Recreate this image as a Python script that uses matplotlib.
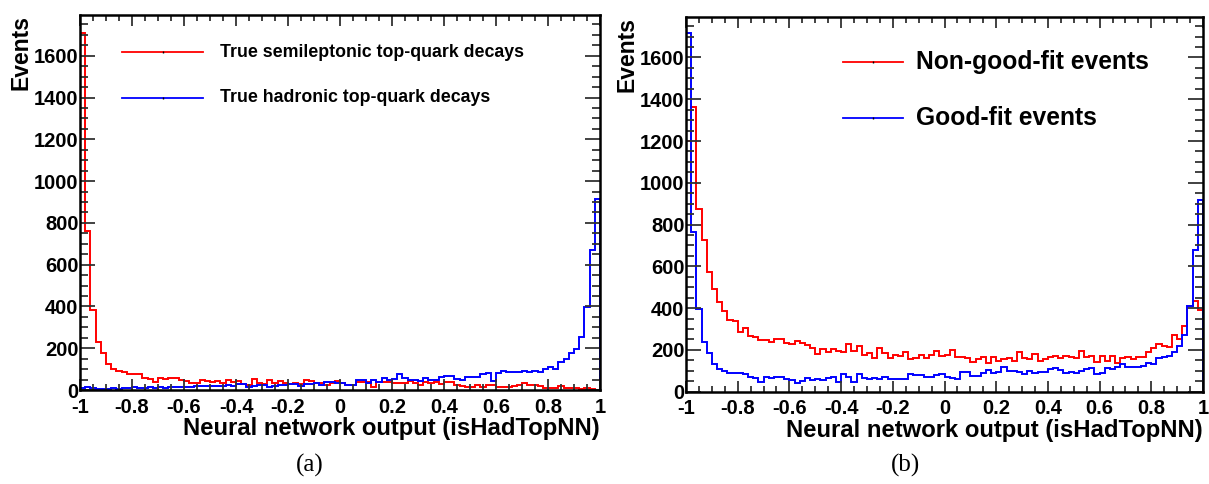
import numpy as np
import matplotlib
matplotlib.use('Agg')
import matplotlib.pyplot as plt
from matplotlib.ticker import MultipleLocator, FixedLocator

plt.rcParams['font.family'] = 'Liberation Sans'
plt.rcParams['font.weight'] = 'bold'

# 100 bins from -1 to 1
bin_edges = np.linspace(-1, 1, 101)

# (a) true semileptonic / hadronic top-quark decays
semilep_a = [1710, 760, 384, 232, 176, 123, 99, 93, 85, 75,
             75, 75, 59, 53, 38, 58, 53, 56, 59, 48,
             42, 35, 35, 48, 42, 38, 42, 35, 48, 37,
             43, 29, 22, 54, 35, 29, 46, 35, 42, 32,
             29, 32, 27, 46, 42, 35, 34, 22, 34, 42,
             35, 24, 24, 40, 40, 38, 13, 38, 38, 38,
             32, 32, 32, 43, 32, 24, 37, 32, 37, 30,
             37, 37, 24, 21, 16, 16, 26, 16, 24, 26,
             13, 13, 16, 19, 26, 34, 22, 22, 19, 8,
             11, 11, 19, 8, 8, 11, 6, 8, 3, 2]
hadronic_a = [10, 12, 8, 6, 5, 6, 8, 7, 9, 8,
              12, 10, 11, 13, 11, 12, 10, 13, 14, 12,
              13, 14, 18, 20, 17, 20, 20, 19, 24, 20,
              30, 29, 14, 20, 24, 25, 14, 20, 23, 24,
              29, 30, 19, 29, 30, 35, 26, 38, 38, 32,
              32, 26, 26, 48, 48, 35, 48, 40, 56, 48,
              53, 75, 56, 46, 48, 45, 56, 46, 46, 64,
              69, 69, 53, 48, 64, 61, 64, 77, 82, 45,
              82, 93, 88, 85, 85, 90, 85, 91, 88, 102,
              112, 101, 133, 149, 176, 197, 253, 397, 670, 912]

# (b) non-good-fit / good-fit events
nongood_b = [1200, 1363, 875, 726, 574, 491, 427, 384, 341, 338,
             288, 304, 267, 264, 248, 248, 238, 250, 250, 232,
             226, 245, 235, 224, 208, 181, 205, 190, 202, 197,
             190, 229, 194, 219, 178, 184, 160, 208, 184, 160,
             174, 171, 189, 158, 162, 176, 160, 174, 195, 171,
             176, 200, 168, 165, 160, 144, 158, 168, 136, 165,
             149, 158, 160, 147, 192, 160, 155, 179, 147, 157,
             168, 173, 160, 173, 168, 163, 197, 165, 171, 142,
             171, 146, 171, 136, 163, 165, 157, 165, 168, 190,
             210, 226, 221, 213, 270, 251, 315, 408, 434, 389]
good_b = [1715, 766, 397, 240, 184, 131, 107, 101, 91, 88,
          88, 85, 72, 66, 48, 72, 64, 72, 72, 59,
          56, 43, 51, 64, 54, 59, 54, 64, 72, 48,
          83, 69, 45, 83, 64, 59, 67, 62, 72, 59,
          62, 61, 61, 83, 78, 78, 69, 69, 80, 83,
          72, 64, 61, 94, 96, 77, 74, 91, 104, 91,
          96, 117, 99, 101, 96, 83, 101, 88, 94, 96,
          110, 114, 104, 88, 93, 88, 99, 107, 114, 83,
          91, 114, 110, 120, 131, 120, 120, 117, 125, 136,
          133, 162, 166, 170, 192, 221, 272, 408, 677, 917]

x_ticks = [-1, -0.8, -0.6, -0.4, -0.2, 0, 0.2, 0.4, 0.6, 0.8, 1]
x_tick_labels = ['-1', '-0.8', '-0.6', '-0.4', '-0.2', '0', '0.2', '0.4', '0.6', '0.8', '1']
y_ticks = [0, 200, 400, 600, 800, 1000, 1200, 1400, 1600]

RED = '#ff0000'
BLUE = '#0000ff'

fig = plt.figure(figsize=(12.09, 4.84), dpi=100)
ax_a = fig.add_axes([80 / 1209, 94 / 484, 520 / 1209, 375 / 484])
ax_b = fig.add_axes([686 / 1209, 92.3 / 484, 517 / 1209, 375 / 484])


def style_axes(ax):
    ax.set_xlim(-1, 1)
    ax.set_ylim(0, 1795)
    ax.xaxis.set_major_locator(FixedLocator(x_ticks))
    ax.set_xticklabels(x_tick_labels)
    ax.xaxis.set_minor_locator(MultipleLocator(0.05))
    ax.yaxis.set_major_locator(FixedLocator(y_ticks))
    ax.yaxis.set_minor_locator(MultipleLocator(50))
    ax.tick_params(which='both', direction='in', top=True, right=True,
                   labelsize=14.5, color='#333333', width=1.3)
    ax.tick_params(axis='x', which='major', length=8, pad=5.5)
    ax.tick_params(axis='x', which='minor', length=4.5)
    ax.tick_params(axis='y', which='major', length=11, pad=1)
    ax.tick_params(axis='y', which='minor', length=6)
    for lab in ax.get_xticklabels() + ax.get_yticklabels():
        lab.set_fontweight('bold')
    for sp in ax.spines.values():
        sp.set_linewidth(1.8)
    ax.set_xlabel('Neural network output (isHadTopNN)', fontsize=17.2,
                  fontweight='bold', loc='right', labelpad=0.5)
    ax.set_ylabel('Events', fontsize=16.5, fontweight='bold', loc='top', labelpad=1)


def legend_entry(ax, y, x0, x1, xt, color, text, size):
    ax.plot([x0, x1], [y, y], color=color, lw=1.3, transform=ax.transAxes, clip_on=False)
    ax.plot([(x0 + x1) / 2], [y], marker='|', ms=2, color='black', mew=1,
            transform=ax.transAxes)
    ax.text(xt, y, text, transform=ax.transAxes, fontsize=size,
            fontweight='bold', va='center', ha='left')


# panel (a)
ax_a.stairs(semilep_a, bin_edges, color=RED, lw=1.4, baseline=0)
ax_a.stairs(hadronic_a, bin_edges, color=BLUE, lw=1.4, baseline=0)
style_axes(ax_a)
legend_entry(ax_a, 0.901, 0.081, 0.237, 0.269, RED, 'True semileptonic top-quark decays', 12.8)
legend_entry(ax_a, 0.779, 0.081, 0.237, 0.269, BLUE, 'True hadronic top-quark decays', 12.8)

# panel (b)
ax_b.stairs(nongood_b, bin_edges, color=RED, lw=1.4, baseline=0)
ax_b.stairs(good_b, bin_edges, color=BLUE, lw=1.4, baseline=0)
style_axes(ax_b)
legend_entry(ax_b, 0.879, 0.304, 0.420, 0.445, RED, 'Non-good-fit events', 17.7)
legend_entry(ax_b, 0.730, 0.304, 0.420, 0.445, BLUE, 'Good-fit events', 17.7)

fig.text(310 / 1209, 1 - 465 / 484, '(a)', family='Liberation Serif', fontweight='normal',
         fontsize=18, ha='center', va='center')
fig.text(905 / 1209, 1 - 465 / 484, '(b)', family='Liberation Serif', fontweight='normal',
         fontsize=18, ha='center', va='center')

fig.savefig('out.png', dpi=100)
